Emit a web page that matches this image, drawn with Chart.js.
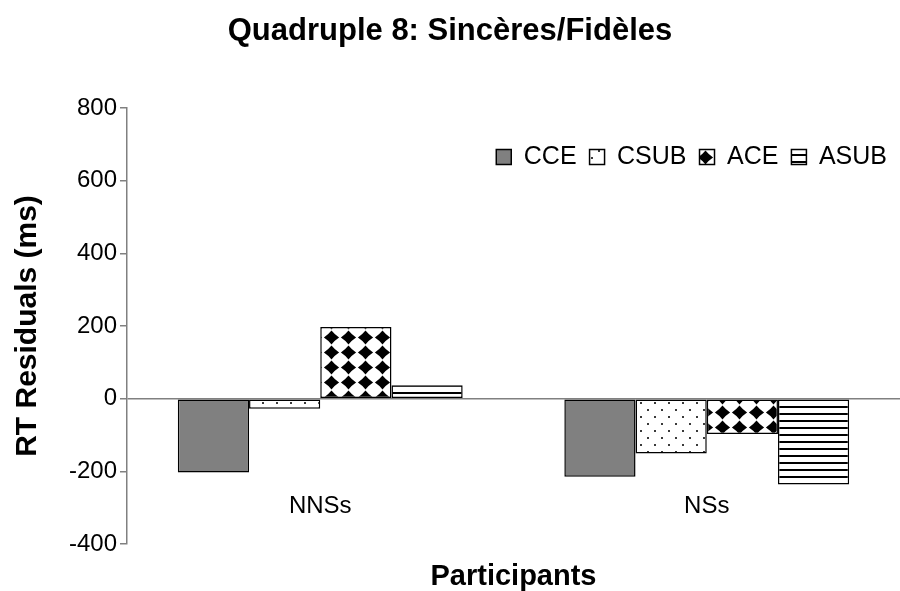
<!DOCTYPE html>
<html>
<head>
<meta charset="utf-8">
<title>Quadruple 8</title>
<script src="https://cdn.jsdelivr.net/npm/chart.js@4"></script>
<style>
  html, body { margin: 0; padding: 0; background: #fff; }
  body { width: 900px; height: 591px; overflow: hidden; }
</style>
</head>
<body>
<canvas id="chart" width="900" height="591"></canvas>
<script>
// Daten
const categories = ["NNSs", "NSs"];
const seriesNames = ["CCE", "CSUB", "ACE", "ASUB"];
const cceValues = [-203, -215];
const csubValues = [-28, -151];
const aceValues = [197, -97];
const asubValues = [37, -236];
const yTicks = [-400, -200, 0, 200, 400, 600, 800];

Chart.defaults.font.family = "'Liberation Sans', Arial, sans-serif";
Chart.defaults.color = "#000";

function musterPunkte() {
  const c = document.createElement("canvas");
  c.width = 14; c.height = 14;
  const g = c.getContext("2d");
  g.fillStyle = "#fff";
  g.fillRect(0, 0, 14, 14);
  g.fillStyle = "#3a3a3a";
  g.fillRect(3, 3, 2, 2);
  g.fillRect(10, 10, 2, 2);
  return g.createPattern(c, "repeat");
}

function musterRauten() {
  const w = 17, h = 15;
  const c = document.createElement("canvas");
  c.width = w; c.height = h;
  const g = c.getContext("2d");
  g.fillStyle = "#fff";
  g.fillRect(0, 0, w, h);
  g.fillStyle = "#000";
  const cx = w / 2, cy = h / 2, rx = 7.6, ry = 6.9;
  const kx = rx * 0.42, ky = ry * 0.42;
  g.beginPath();
  g.moveTo(cx, cy - ry);
  g.quadraticCurveTo(cx + kx, cy - ky, cx + rx, cy);
  g.quadraticCurveTo(cx + kx, cy + ky, cx, cy + ry);
  g.quadraticCurveTo(cx - kx, cy + ky, cx - rx, cy);
  g.quadraticCurveTo(cx - kx, cy - ky, cx, cy - ry);
  g.fill();
  return g.createPattern(c, "repeat");
}

function musterStreifen() {
  const c = document.createElement("canvas");
  c.width = 8; c.height = 7;
  const g = c.getContext("2d");
  g.fillStyle = "#fff";
  g.fillRect(0, 0, 8, 7);
  g.fillStyle = "#000";
  g.fillRect(0, 0, 8, 2);
  return g.createPattern(c, "repeat");
}

const fuellungen = ["#808080", musterPunkte(), musterRauten(), musterStreifen()];
const werte = [cceValues, csubValues, aceValues, asubValues];

// Legende in die Zeichenfläche schieben
const legendeInnen = {
  id: "legendeInnen",
  afterLayout(chart) {
    const lg = chart.legend;
    const h = lg.bottom - lg.top;
    lg.top = 131.5;
    lg.bottom = lg.top + h;
  }
};

new Chart(document.getElementById("chart"), {
  type: "bar",
  data: {
    labels: categories,
    datasets: seriesNames.map((name, i) => ({
      label: name,
      data: werte[i],
      backgroundColor: fuellungen[i],
      borderColor: "#000",
      borderWidth: 1.5,
      borderSkipped: false,
      barPercentage: 1,
      categoryPercentage: 0.737,
      xAxisID: "x"
    }))
  },
  options: {
    responsive: false,
    animation: false,
    layout: { padding: 0 },
    plugins: {
      title: {
        display: true,
        text: "Quadruple 8: Sincères/Fidèles",
        font: { size: 31, weight: "bold" },
        padding: { top: 13, bottom: 9.8 }
      },
      legend: {
        position: "top",
        align: "end",
        labels: {
          boxWidth: 15,
          boxHeight: 15,
          padding: 13,
          font: { size: 25 }
        }
      },
      tooltip: { enabled: false }
    },
    scales: {
      x: {
        axis: "x",
        position: "bottom",
        grid: { display: false },
        border: { display: false },
        ticks: { display: false },
        title: {
          display: true,
          text: "Participants",
          font: { size: 29, weight: "bold", lineHeight: 1 },
          padding: { top: 0, bottom: 0 }
        },
        afterFit(scale) { scale.height = 47; }
      },
      x2: {
        axis: "x",
        type: "category",
        labels: categories,
        offset: true,
        position: { y: -258 },
        grid: { display: false, drawTicks: false },
        border: { display: false },
        ticks: { padding: 0, font: { size: 24 } }
      },
      y: {
        min: yTicks[0],
        max: yTicks[yTicks.length - 1],
        ticks: { stepSize: 200, padding: 3, font: { size: 24 } },
        grid: {
          color: (ctx) => ctx.tick && ctx.tick.value === 0 ? "#808080" : "rgba(0,0,0,0)",
          lineWidth: 1.5,
          tickColor: "#808080",
          tickLength: 7
        },
        border: { color: "#808080", width: 1.5 },
        title: {
          display: true,
          text: "RT Residuals (ms)",
          font: { size: 30, weight: "bold", lineHeight: 1 },
          padding: { top: 13, bottom: 0 }
        },
        afterFit(scale) { scale.width = 127; }
      }
    }
  },
  plugins: [legendeInnen]
});
</script>
</body>
</html>
